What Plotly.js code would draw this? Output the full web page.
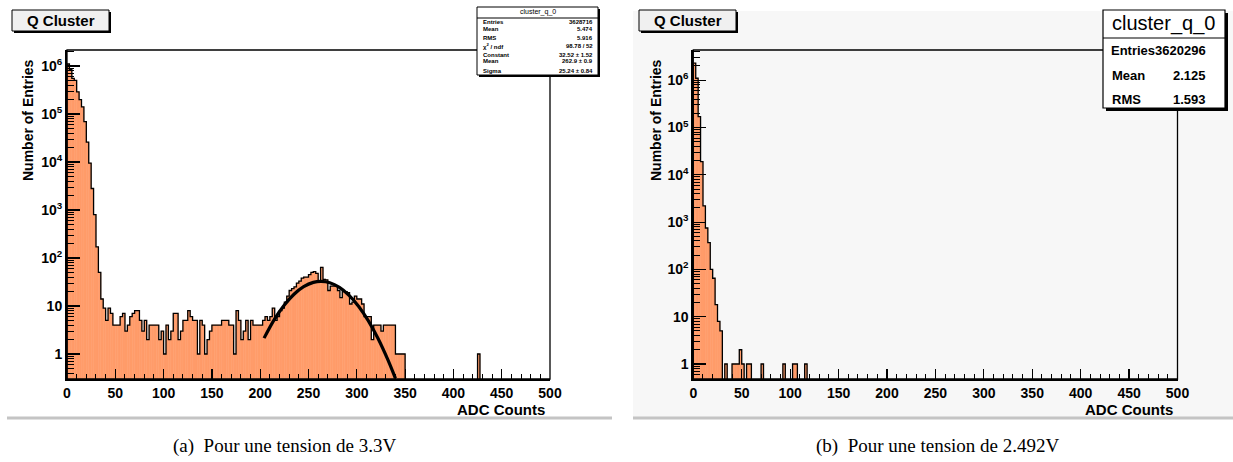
<!DOCTYPE html>
<html><head><meta charset="utf-8">
<script src="https://cdn.plot.ly/plotly-3.0.1.min.js"></script>
<style>html,body{margin:0;padding:0;background:#fff;}#chart{width:1233px;height:462px;}</style>
</head><body><div id="chart"></div>
<script>
// ---------------- data ----------------
const binWidth = 2.5; // ADC counts per bin, 200 bins over 0-500
const leftCounts = [
 1100000,850000,550000,500000,290000,200000,140000,69000,26000,9500,
 2800,800,170,50,14,9,5,9,7,4,
 4,4,6,7,3,4,6,7,8,8,
 5,3,5,2,4,4,4,4,2,3,
 1,4,2,3,7,7,2,3,5,5,
 8,6,5,5,1,5,4,1,2,3,
 4,4,4,4,5,5,5,4,4,1,
 8,5,2,3,5,2,5,4,4,4,
 4,5,6,5,6,9,5,6,8,9,
 12,16,21,23,25,30,33,38,40,40,
 45,50,52,48,31,64,36,35,21,26,
 26,26,21,15,20,20,19,11,12,16,
 14,14,11,6,6,6,2,4,4,4,
 3,4,4,4,4,4,1,1,1,1,
 0,0,0,0,0,0,0,0,0,0,
 0,0,0,0,0,0,0,0,0,0,
 0,0,0,0,0,0,0,0,0,0,
 1,0,0,0,0,0,0,0,0,0,
 0,0,0,0,0,0,0,0,0,0,
 0,0,0,0,0,0,0,0,0,0
];
const rightCounts = [
 2300000,1100000,170000,19000,2200,750,370,100,65,18,
 8,5,0,1,0,0,1,1,1,2,
 1,0,1,1,0,0,0,0,1,0,
 0,0,0,0,0,0,0,1,0,0,
 0,1,1,0,0,0,1,0,0,0
].concat(new Array(150).fill(0));
// Gaussian fit curve as drawn (left panel)
const fitX = [204,215,225,235,245,255,263,272,282,292,302,312,322,332,340];
const fitY = [2.14,5.4,10.5,17.6,25.3,31.0,32.5,30.5,24.4,16.7,9.8,4.9,2.1,0.77,0.31];
const xTickVals = [0,50,100,150,200,250,300,350,400,450,500];
const yTickVals = [1,10,100,1000,10000,100000,1000000];
const yTickText = ['1','10','10<sup>2</sup>','10<sup>3</sup>','10<sup>4</sup>','10<sup>5</sup>','10<sup>6</sup>'];
const panelTitle = 'Q Cluster';
const histName = 'cluster_q_0';
const xTitle = 'ADC Counts';
const yTitle = 'Number of Entries';
const leftStatsLabels = ['Entries','Mean','RMS','\u03C7<sup>2</sup> / ndf','Constant','Mean','Sigma'];
const leftStatsValues = ['3628716','5.474','5.916','98.78 / 52','32.52 \u00B1 1.52','262.9 \u00B1 0.9','25.24 \u00B1 0.84'];
const rightStatsLabels = ['Entries','Mean','RMS'];
const rightStatsValues = ['3620296','2.125','1.593'];
const captions = ['(a)  Pour une tension de 3.3V','(b)  Pour une tension de 2.492V'];

// ---------------- helpers ----------------
const W = 1233, H = 462;
const px = x => x / W, py = y => 1 - y / H;
const SANS = 'Liberation Sans, Arial, Helvetica, sans-serif';
const SERIF = 'Liberation Serif, Times New Roman, serif';
const FLOOR = 1e-3;
const FILL = '#ff9c6a';

function centers(n){ const a=[]; for(let i=0;i<n;i++) a.push((i+0.5)*binWidth); return a; }
function outline(counts){
  const xs=[0], ys=[FLOOR];
  counts.forEach((c,i)=>{ xs.push(i*binWidth); ys.push(c>0?c:FLOOR); });
  xs.push(counts.length*binWidth); ys.push(FLOOR);
  return {xs, ys};
}
function histTraces(counts, xa, ya){
  const o = outline(counts);
  return [
    {type:'bar', x:centers(counts.length), y:counts.map(c=>c>0?c:null), width:binWidth,
     marker:{color:FILL, line:{width:0.6, color:FILL}}, xaxis:xa, yaxis:ya, hoverinfo:'skip', showlegend:false},
    {type:'scatter', mode:'lines', x:o.xs, y:o.ys, line:{shape:'hv', color:'#000', width:1.3},
     xaxis:xa, yaxis:ya, hoverinfo:'skip', showlegend:false}
  ];
}
function minorLogVals(lo, hi){
  const v=[]; for(let p=lo;p<=hi;p++){ for(let m=2;m<=9;m++) v.push(m*Math.pow(10,p)); } return v;
}
const tickFont = {family:SANS, size:14, color:'#000', weight:'bold'};
function xAxis(domain, anchor){
  return {domain, anchor, range:[xTickVals[0], xTickVals[xTickVals.length-1]], showline:true, linewidth:2, linecolor:'#000',
    ticks:'inside', ticklen:10.5, tickwidth:1.2, tickcolor:'#000',
    tickmode:'linear', tick0:xTickVals[0], dtick:xTickVals[1]-xTickVals[0],
    minor:{tickmode:'linear', tick0:0, dtick:10, ticklen:5, tickwidth:1, tickcolor:'#000', ticks:'inside'},
    tickfont:tickFont, showgrid:false, zeroline:false, fixedrange:true};
}
function yAxis(domain, anchor, range){
  return {domain, anchor, type:'log', range, showline:true, linewidth:2, linecolor:'#000',
    ticks:'inside', ticklen:13, tickwidth:1.2, tickcolor:'#000',
    tickmode:'array', tickvals:yTickVals, ticktext:yTickText,
    minor:{tickmode:'array', tickvals:minorLogVals(-1,6), ticklen:6.5, tickwidth:1, tickcolor:'#000', ticks:'inside'},
    tickfont:tickFont, showgrid:false, zeroline:false, fixedrange:true};
}

const yDom = [py(379), py(50)];
const traces = [
  ...histTraces(leftCounts,'x','y'),
  {type:'scatter', mode:'lines', x:fitX, y:fitY, line:{shape:'spline', color:'#000', width:3.2},
   xaxis:'x', yaxis:'y', hoverinfo:'skip', showlegend:false},
  ...histTraces(rightCounts,'x2','y2')
];

const shapes = [];
const ann = [];
function rect(x0,y0,x1,y1,fill,lineColor,lw,layer){
  shapes.push({type:'rect', xref:'paper', yref:'paper', x0:px(x0), x1:px(x1), y0:py(y1), y1:py(y0),
    fillcolor:fill, line:{color:lineColor||'rgba(0,0,0,0)', width:lw||0}, layer:layer||'above'});
}
function hline(x0,x1,y,color,lw,layer){
  shapes.push({type:'line', xref:'paper', yref:'paper', x0:px(x0), x1:px(x1), y0:py(y), y1:py(y),
    line:{color, width:lw}, layer:layer||'above'});
}
function text(t,x,y,size,opts,weight,family){
  const font = {family:family||SANS, size, color:'#000'};
  if(weight) font.weight = weight;
  ann.push(Object.assign({text:t, xref:'paper', yref:'paper', x:px(x), y:py(y), showarrow:false,
    xanchor:'center', yanchor:'middle', font}, opts||{}));
}

// panel backgrounds
rect(633,11,1233,417,'#f7f7f7',null,0,'below');
hline(7,612,418,'#c4c4c4',3,'below');
hline(633,1233,418,'#c4c4c4',3,'below');

// plot frames (top / right thin lines)
['x','x2'].forEach((xa,i)=>{
  const ya = i? 'y2':'y';
  shapes.push({type:'rect', xref:xa+' domain', yref:ya+' domain', x0:0,x1:1,y0:0,y1:1,
    line:{color:'#000', width:1.3}, fillcolor:'rgba(0,0,0,0)', layer:'above'});
});

// title boxes
[[12,109],[639,736]].forEach(([a,b])=>{
  rect(a+2,12,b+2,33,'#000');
  rect(a,10,b,31,'#f0f0f0','#000',1);
  text(panelTitle,(a+b)/2,21,15,null,'bold');
});

// left stats box
rect(479,9,600,77,'#000');
rect(477,7,598,75,'#ffffff','#000',1);
hline(477,598,18,'#000',1);
text(histName,537.5,12.5,7);
const leftRowsY = [22.5,29.5,37.5,45.5,55,61.5,70.5];
leftStatsLabels.forEach((l,i)=>{
  text(l,481,leftRowsY[i],6,{xanchor:'left'},'bold');
  text(leftStatsValues[i],595,leftRowsY[i],6,{xanchor:'right'},'bold');
});

// right stats box
rect(1106,13,1228,111,'#000');
rect(1103,10,1225,108,'#ffffff','#000',1.2);
hline(1103,1225,38,'#000',1.2);
text(histName,1163,23.5,20);
const rightRowsY = [50,75,99.5];
text(rightStatsLabels[0]+rightStatsValues[0],1109,rightRowsY[0],13,{xanchor:'left'},'bold');
for(let i=1;i<rightStatsLabels.length;i++){
  text(rightStatsLabels[i],1110,rightRowsY[i],13,{xanchor:'left'},'bold');
  text(rightStatsValues[i],1208,rightRowsY[i],13,{xanchor:'right'},'bold');
}

// axis titles
[[28,547],[656,1175]].forEach(([yx,xr])=>{
  text(yTitle,yx,120,14,{textangle:-90},'bold');
  text(xTitle,xr,409,15,{xanchor:'right'},'bold');
});

// captions
text(captions[0],284.5,446,19,null,null,SERIF);
text(captions[1],938,446,19,null,null,SERIF);

const layout = {
  width:W, height:H, margin:{l:0,r:0,t:0,b:0}, paper_bgcolor:'#ffffff', plot_bgcolor:'rgba(0,0,0,0)',
  showlegend:false, bargap:0,
  xaxis: xAxis([px(67),px(550)],'y'),
  yaxis: yAxis(yDom,'x',[-0.521,6.333]),
  xaxis2: xAxis([px(693.3),px(1177.5)],'y2'),
  yaxis2: yAxis(yDom,'x2',[-0.317,6.639]),
  shapes, annotations: ann
};
Plotly.newPlot('chart', traces, layout, {staticPlot:true, displayModeBar:false});
</script></body></html>
